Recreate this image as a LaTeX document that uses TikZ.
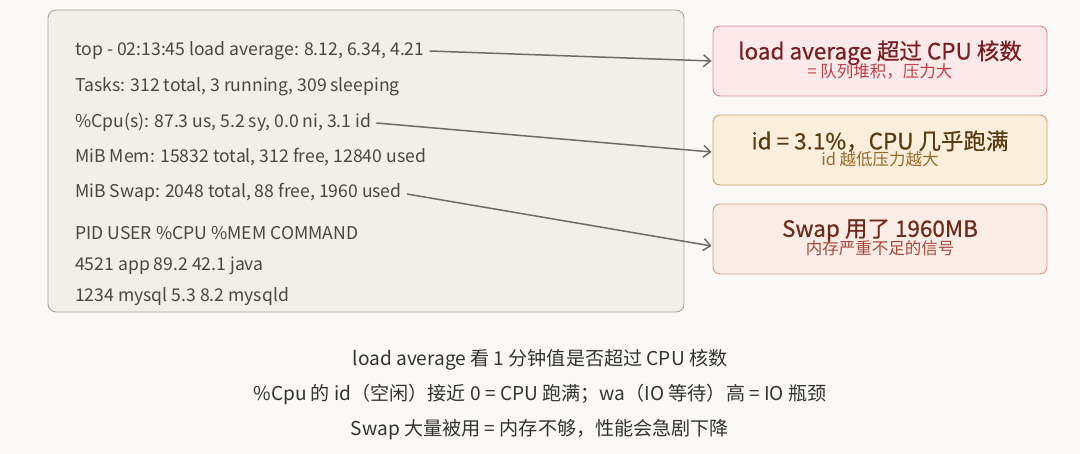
\documentclass[tikz,border=0pt]{standalone}
\usepackage{fontspec}
\setmainfont{Noto Sans CJK SC}
\newfontfamily\medfont[FakeBold=0.6]{Noto Sans CJK SC}
\usetikzlibrary{arrows.meta}
\definecolor{bg}{HTML}{FAF9F6}
\definecolor{term}{HTML}{F1EFE9}
\definecolor{termb}{HTML}{A8A49C}
\definecolor{ttxt}{HTML}{4A4740}
\definecolor{r1f}{HTML}{FCE9E9}\definecolor{r1b}{HTML}{D98A8E}\definecolor{r1t}{HTML}{7A1F22}\definecolor{r1s}{HTML}{C0404A}
\definecolor{r2f}{HTML}{FBEEDB}\definecolor{r2b}{HTML}{C9A272}\definecolor{r2t}{HTML}{5A3A10}\definecolor{r2s}{HTML}{9A6A2A}
\definecolor{r3f}{HTML}{FBECE6}\definecolor{r3b}{HTML}{D49A88}\definecolor{r3t}{HTML}{6E2A1A}\definecolor{r3s}{HTML}{A8483A}
\definecolor{arr}{HTML}{6E6C68}
\newcommand{\callouttext}[4]{\begin{tabular}{@{}c@{}}{\medfont\fontsize{22.5}{26}\selectfont\color{#1}#2}\\[-1pt]{\fontsize{16.5}{20}\selectfont\color{#3}#4}\end{tabular}}
\begin{document}
\begin{tikzpicture}[x=1pt,y=-1pt,
  tl/.style={anchor=west,font=\fontsize{17.6}{19}\selectfont,text=ttxt,inner sep=0pt},
  callout/.style={draw,rounded corners=7pt,line width=0.9pt,minimum width=334pt,minimum height=70pt,inner sep=0pt},
  con/.style={draw=arr,line width=1.5pt,-{Straight Barb[length=7pt,width=12pt,line width=1.5pt]}},
  note/.style={font=\fontsize{19.1}{21}\selectfont,text=black!80}]
\fill[bg] (0,0) rectangle (1080,454);
\draw[termb,line width=0.9pt,fill=term,rounded corners=8pt] (48,10) rectangle (684,312);
\node[tl] (l1) at (75,51) {top - 02:13:45 load average: 8.12, 6.34, 4.21};
\node[tl] (l2) at (75,87) {Tasks: 312 total, 3 running, 309 sleeping};
\node[tl] (l3) at (75,122) {\%Cpu(s): 87.3 us, 5.2 sy, 0.0 ni, 3.1 id};
\node[tl] (l4) at (75,157) {MiB Mem: 15832 total, 312 free, 12840 used};
\node[tl] (l5) at (75,192) {MiB Swap: 2048 total, 88 free, 1960 used};
\node[tl] (l6) at (75,233) {PID USER \%CPU \%MEM COMMAND};
\node[tl] (l7) at (75,266) {4521 app 89.2 42.1 java};
\node[tl] (l8) at (75,297) {1234 mysql 5.3 8.2 mysqld};
\node[callout,draw=r1b,fill=r1f] (c1) at (880,61) {\callouttext{r1t}{load average 超过 CPU 核数}{r1s}{= 队列堆积，压力大}};
\node[callout,draw=r2b,fill=r2f] (c2) at (880,150) {\callouttext{r2t}{id = 3.1\%，CPU 几乎跑满}{r2s}{id 越低压力越大}};
\node[callout,draw=r3b,fill=r3f] (c3) at (880,239) {\callouttext{r3t}{Swap 用了 1960MB}{r3s}{内存严重不足的信号}};
\draw[con] ([xshift=5pt]l1.east) -- ([xshift=-1pt]c1.west);
\draw[con] ([xshift=5pt,yshift=-1pt]l3.east) -- ([xshift=-1pt,yshift=-2pt]c2.west);
\draw[con] ([xshift=5pt,yshift=-2pt]l5.east) -- ([xshift=-1pt,yshift=-7pt]c3.west);
\node[note] (n1) at (540,360) {load average 看 1 分钟值是否超过 CPU 核数};
\node[note] (n2) at (540,395) {\%Cpu 的 id（空闲）接近 0 = CPU 跑满；wa（IO 等待）高 = IO 瓶颈};
\node[note] (n3) at (540,430) {Swap 大量被用 = 内存不够，性能会急剧下降};
\end{tikzpicture}
\end{document}
